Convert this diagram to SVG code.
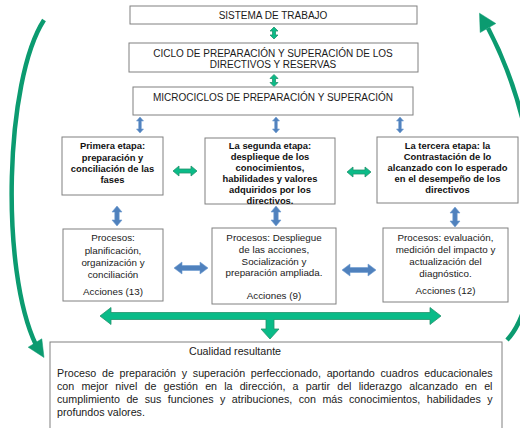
<svg xmlns="http://www.w3.org/2000/svg" width="520" height="428" viewBox="0 0 520 428">
<style>
.box{fill:#fff;stroke:#808080;stroke-width:1}
text{font-family:"Liberation Sans",Arial,sans-serif;fill:#1a1a1a}
.cap{font-size:10px;text-anchor:middle}
.bold{font-size:9.4px;font-weight:bold;text-anchor:middle;fill:#111}
.proc{font-size:9.8px;text-anchor:middle}
.body{font-size:10.7px}
.g{fill:#0abb88;stroke:#23936c;stroke-width:0.8}
.b{fill:#4f81bd;stroke:#6d9ad0;stroke-width:0.6}
.curve{fill:none;stroke:#0b9b70;stroke-width:4.5}
.curvehead{fill:#0b9b70;stroke:#0b9b70;stroke-width:0.5}
</style>
<defs>
<polygon id="bsm" points="0,0 3.5,4 1.3,4 1.3,12 3.5,12 0,16 -3.5,12 -1.3,12 -1.3,4 -3.5,4"/>
<polygon id="bmd" points="0,0 5,6 2.2,6 2.2,14 5,14 0,20 -5,14 -2.2,14 -2.2,6 -5,6"/>
<polygon id="bh" points="0,0 8,-6 8,-2.5 26,-2.5 26,-6 34,0 26,6 26,2.5 8,2.5 8,6"/>
<polygon id="gh" points="0,0 6,-5 6,-2 18,-2 18,-5 24,0 18,5 18,2 6,2 6,5"/>
<polygon id="gv" points="0,0 4,4 1.5,4 1.5,8 4,8 0,12 -4,8 -1.5,8 -1.5,4 -4,4"/>
</defs>

<g id="connectors">
  <use href="#gv" class="g" x="274" y="27"/>
  <use href="#gv" class="g" x="274" y="74.5"/>
  <use href="#bsm" class="b" x="140" y="117"/>
  <use href="#bsm" class="b" x="276" y="117"/>
  <use href="#bsm" class="b" x="400" y="117"/>
  <use href="#gh" class="g" x="173" y="171"/>
  <use href="#gh" class="g" x="347" y="172"/>
  <use href="#bmd" class="b" x="117" y="206"/>
  <use href="#bmd" class="b" x="276" y="206"/>
  <use href="#bmd" class="b" x="455" y="207"/>
  <use href="#bh" class="b" x="174" y="268"/>
  <use href="#bh" class="b" x="342" y="270"/>
  <polygon class="g" points="100,316 111,307.5 111,312.5 430,312.5 430,307.5 441,316 430,324.5 430,319.5 274,319.5 274,329 279,329 270,339 261,329 266,329 266,319.5 111,319.5 111,324.5"/>
  <path class="curve" d="M44 20 C5 80 0 270 36 345"/>
  <polygon class="curvehead" points="41.8,338.8 28.2,347.2 44,357.5"/>
  <path class="curve" d="M507 340 C545 300 552 150 488 28"/>
  <polygon class="curvehead" points="495.8,23.5 480.2,32.5 479.5,13.2"/>
</g>

<g id="sistema">
  <rect class="box" x="130" y="6" width="287" height="18"/>
  <text class="cap" x="273" y="19">SISTEMA DE TRABAJO</text>
</g>
<g id="ciclo">
  <rect class="box" x="129" y="43" width="289" height="29"/>
  <text class="cap" x="273" y="56.5">CICLO DE PREPARACIÓN Y SUPERACIÓN DE LOS</text>
  <text class="cap" x="273" y="68">DIRECTIVOS Y RESERVAS</text>
</g>
<g id="microciclos">
  <rect class="box" x="133" y="87" width="280" height="28"/>
  <text class="cap" x="273" y="100.5">MICROCICLOS DE PREPARACIÓN Y SUPERACIÓN</text>
</g>

<g id="etapa1">
  <rect class="box" x="62" y="137" width="101" height="58"/>
  <text class="bold" x="112.5" y="149">Primera etapa:</text>
  <text class="bold" x="112.5" y="160.5">preparación y</text>
  <text class="bold" x="112.5" y="171.5">conciliación de las</text>
  <text class="bold" x="112.5" y="182.5">fases</text>
</g>
<g id="etapa2">
  <rect class="box" x="205" y="138" width="130" height="66"/>
  <text class="bold" x="270" y="148.5">La segunda etapa:</text>
  <text class="bold" x="270" y="160">desplieque de los</text>
  <text class="bold" x="270" y="171">conocimientos,</text>
  <text class="bold" x="270" y="181.5">habilidades y valores</text>
  <text class="bold" x="270" y="192.5">adquiridos por los</text>
  <text class="bold" x="270" y="203.5">directivos.</text>
</g>
<g id="etapa3">
  <rect class="box" x="377" y="137" width="141" height="66"/>
  <text class="bold" x="447.5" y="148.5">La tercera etapa: la</text>
  <text class="bold" x="447.5" y="159.5">Contrastación de lo</text>
  <text class="bold" x="447.5" y="170.5">alcanzado con lo esperado</text>
  <text class="bold" x="447.5" y="181.5">en el desempeño de los</text>
  <text class="bold" x="447.5" y="192.5">directivos</text>
</g>

<g id="procesos1">
  <rect class="box" x="63" y="229" width="100" height="72"/>
  <text class="proc" x="113" y="241">Procesos:</text>
  <text class="proc" x="113" y="254">planificación,</text>
  <text class="proc" x="113" y="266">organización y</text>
  <text class="proc" x="113" y="278">conciliación</text>
  <text class="proc" x="113" y="295">Acciones (13)</text>
</g>
<g id="procesos2">
  <rect class="box" x="212" y="228" width="124" height="76"/>
  <text class="proc" x="274" y="240.5">Procesos: Despliegue</text>
  <text class="proc" x="274" y="252.5">de las acciones,</text>
  <text class="proc" x="274" y="264.5">Socialización y</text>
  <text class="proc" x="274" y="276">preparación ampliada.</text>
  <text class="proc" x="274" y="299">Acciones (9)</text>
</g>
<g id="procesos3">
  <rect class="box" x="383" y="228" width="125" height="74"/>
  <text class="proc" x="445.5" y="240.5">Procesos: evaluación,</text>
  <text class="proc" x="445.5" y="253">medición del impacto y</text>
  <text class="proc" x="445.5" y="264.5">actualización del</text>
  <text class="proc" x="445.5" y="276.5">diagnóstico.</text>
  <text class="proc" x="445.5" y="293.5">Acciones (12)</text>
</g>

<g id="cualidad">
  <rect class="box" x="50" y="342" width="452" height="92"/>
  <text class="body" x="235" y="354.5" text-anchor="middle">Cualidad resultante</text>
  <text class="body" x="57" y="377" word-spacing="2.76">Proceso de preparación y superación perfeccionado, aportando cuadros educacionales</text>
  <text class="body" x="57" y="390" word-spacing="4.2">con mejor nivel de gestión en la dirección, a partir del liderazgo alcanzado en el</text>
  <text class="body" x="57" y="403" word-spacing="3.46">cumplimiento de sus funciones y atribuciones, con más conocimientos, habilidades y</text>
  <text class="body" x="57" y="416">profundos valores.</text>
</g>
</svg>
